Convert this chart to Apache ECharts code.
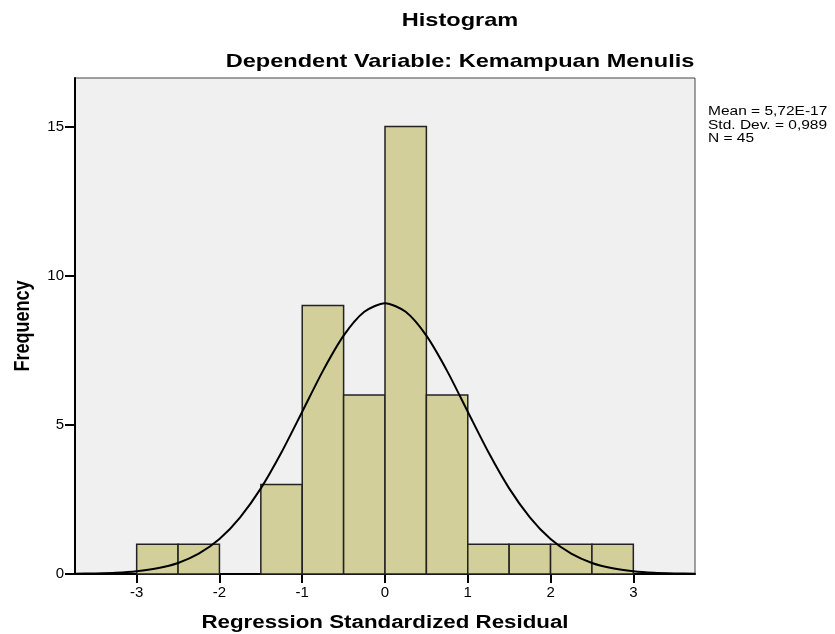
<!DOCTYPE html>
<html>
<head>
<meta charset="utf-8">
<script src="https://cdn.jsdelivr.net/npm/echarts@6/dist/echarts.min.js"></script>
<style>
  html, body { margin: 0; padding: 0; background: #fff; }
  #chart { width: 835px; height: 634px; }
</style>
</head>
<body>
<div id="chart"></div>
<script>
// histogram bins (lower edge, upper edge) and counts
const binStart = [-3, -2.5, -2, -1.5, -1, -0.5, 0, 0.5, 1, 1.5, 2, 2.5];
const binEnd = [-2.5, -2, -1.5, -1, -0.5, 0, 0.5, 1, 1.5, 2, 2.5, 3];
const counts = [1, 1, 0, 3, 9, 6, 15, 6, 1, 1, 1, 1];

// normal curve
const curveX = [-3.75, -3.5, -3.25, -3, -2.75, -2.5, -2.25, -2, -1.75, -1.5, -1.25, -1, -0.75, -0.5, -0.25,
  0, 0.25, 0.5, 0.75, 1, 1.25, 1.5, 1.75, 2, 2.25, 2.5, 2.75, 3, 3.25, 3.5, 3.75];
const curveY = [0.01, 0.02, 0.04, 0.09, 0.19, 0.37, 0.68, 1.17, 1.9, 2.87, 4.08, 5.44, 6.81, 7.99, 8.79,
  9.08, 8.79, 7.99, 6.81, 5.44, 4.08, 2.87, 1.9, 1.17, 0.68, 0.37, 0.19, 0.09, 0.04, 0.02, 0.01];

const xTicks = [-3, -2, -1, 0, 1, 2, 3];
const yTicks = [0, 5, 10, 15];
const statsText = ['Mean = 5,72E-17', 'Std. Dev. = 0,989', 'N = 45'];

const FONT = '"Liberation Sans", Arial, sans-serif';
const SX = 1.24; // the picture's text is stretched sideways

const chart = echarts.init(document.getElementById('chart'));

const barData = binStart.map((s, i) => [s, binEnd[i], counts[i]]);
const curveData = curveX.map((x, i) => [x, curveY[i]]);

// text pieces
const texts = [
  { x: 460, y: 21, text: 'Histogram', size: 19, bold: true },
  { x: 460, y: 62, text: 'Dependent Variable: Kemampuan Menulis', size: 19, bold: true },
  { x: 385, y: 623, text: 'Regression Standardized Residual', size: 18, bold: true }
];
const graphics = texts.map(t => ({
  type: 'text',
  x: t.x, y: t.y,
  scaleX: SX,
  style: {
    text: t.text, fill: '#000',
    font: (t.bold ? 'bold ' : '') + t.size + 'px ' + FONT,
    textAlign: 'center', textVerticalAlign: 'middle'
  }
}));
// y axis name, rotated
graphics.push({
  type: 'text',
  x: 23, y: 326,
  rotation: Math.PI / 2,
  scaleY: SX,
  style: {
    text: 'Frequency', fill: '#000',
    font: 'bold 18px ' + FONT,
    textAlign: 'center', textVerticalAlign: 'middle'
  }
});
statsText.forEach((s, i) => {
  graphics.push({
    type: 'text',
    x: 708, y: 112 + i * 13.5,
    scaleX: SX,
    style: {
      text: s, fill: '#000',
      font: '12.5px ' + FONT,
      textAlign: 'left', textVerticalAlign: 'middle'
    }
  });
});

const option = {
  animation: false,
  backgroundColor: '#fff',
  grid: {
    left: 75, right: 140, top: 78, bottom: 60,
    show: true,
    backgroundColor: '#f0f0f0',
    borderColor: '#444',
    borderWidth: 1
  },
  xAxis: {
    type: 'value',
    min: -3.745, max: 3.745,
    axisLine: { show: true, onZero: false, lineStyle: { color: '#000', width: 2 } },
    axisTick: { show: true, length: 9, customValues: xTicks, lineStyle: { color: '#000', width: 2 } },
    axisLabel: { customValues: xTicks, color: '#000', fontSize: 15, fontFamily: FONT, margin: 11 },
    splitLine: { show: false }
  },
  yAxis: {
    type: 'value',
    min: 0, max: 16.63,
    axisLine: { show: true, onZero: false, lineStyle: { color: '#000', width: 2 } },
    axisTick: { show: true, length: 10, customValues: yTicks, lineStyle: { color: '#000', width: 2 } },
    axisLabel: { customValues: yTicks, color: '#000', fontSize: 15, fontFamily: FONT, margin: 11 },
    splitLine: { show: false }
  },
  series: [
    {
      type: 'custom',
      data: barData,
      renderItem: function (params, api) {
        const h = api.value(2);
        if (!h) return null;
        const p0 = api.coord([api.value(0), h]);
        const p1 = api.coord([api.value(1), 0]);
        return {
          type: 'rect',
          shape: { x: p0[0], y: p0[1], width: p1[0] - p0[0], height: p1[1] - p0[1] },
          style: { fill: '#d3cf9b', stroke: '#222', lineWidth: 1.5 }
        };
      },
      z: 2
    },
    {
      type: 'line',
      data: curveData,
      smooth: 0.25,
      showSymbol: false,
      lineStyle: { color: '#000', width: 2 },
      z: 3
    }
  ],
  graphic: graphics
};

chart.setOption(option);
</script>
</body>
</html>
